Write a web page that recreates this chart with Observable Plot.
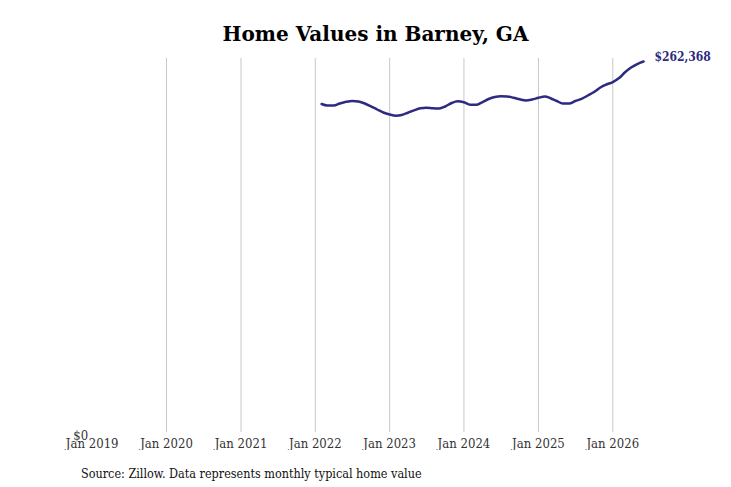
<!DOCTYPE html>
<html>
<head>
<meta charset="utf-8">
<script src="https://cdn.jsdelivr.net/npm/d3@7"></script>
<script src="https://cdn.jsdelivr.net/npm/@observablehq/plot@0.6"></script>
<style>
  html, body { margin: 0; padding: 0; background: #fff; }
  body { width: 731px; height: 487px; position: relative; overflow: hidden; }
  #title { position: absolute; left: 0; top: 22px; width: 751px; text-align: center;
    font-family: "DejaVu Serif", serif; font-weight: bold; font-size: 20px; color: #000; }
  #chart { position: absolute; left: 0; top: 50px; }
  #caption { position: absolute; left: 81px; top: 466px;
    font-family: "DejaVu Serif Condensed", "DejaVu Serif", serif; font-stretch: condensed;
    font-size: 12.5px; color: #111; }
</style>
</head>
<body>
<div id="title">Home Values in Barney, GA</div>
<div id="chart"></div>
<div id="caption">Source: Zillow. Data represents monthly typical home value</div>
<script>
// Monthly typical home value, Feb 2022 – Jun 2026
const startYear = 2022;
const startMonth = 1; // February (0-based)
const values = [
  232300, 231250, 231250, 232670, 233870, 234510, 234080, 232670, 230690, 228430, 226300,
  224890, 224040, 224540, 226160, 227860, 229270, 229630, 229270, 229130, 230550, 233020, 234300,
  233520, 231750, 231750, 233730, 235850, 237270, 237760, 237620, 236700, 235640, 234790, 235500,
  236700, 237620, 236420, 234440, 232670, 232670, 234440, 235990, 238330, 240800, 243980, 246110,
  247870, 250700, 254590, 258130, 260600, 262368
];
const yearTicks = [2019, 2020, 2021, 2022, 2023, 2024, 2025, 2026];
const gridYears = [2020, 2021, 2022, 2023, 2024, 2025, 2026];
const yTicks = [0];
const lineColor = "#2d2a7f";

const data = values.map((v, i) => ({date: new Date(Date.UTC(startYear, startMonth + i, 1)), value: v}));
const last = data[data.length - 1];
const tickDates = yearTicks.map(y => new Date(Date.UTC(y, 0, 1)));
const gridDates = gridYears.map(y => new Date(Date.UTC(y, 0, 1)));

const chart = Plot.plot({
  width: 731,
  height: 400,
  marginLeft: 91.7,
  marginRight: 88,
  marginTop: 8,
  marginBottom: 18,
  style: {fontFamily: '"DejaVu Serif Condensed", "DejaVu Serif", serif', fontStretch: "condensed", fontSize: "13px", color: "#333", background: "transparent"},
  x: {type: "utc", domain: [new Date(Date.UTC(2019, 0, 1)), last.date], label: null},
  y: {domain: [0, 264500], label: null},
  marks: [
    Plot.ruleX(gridDates, {stroke: "#c8c8c8", strokeWidth: 1}),
    Plot.axisX({ticks: tickDates, tickSize: 0, tickPadding: 6, tickFormat: d3.utcFormat("Jan %Y"), fill: "#333", label: null}),
    Plot.axisY({ticks: yTicks, tickSize: 0, tickPadding: 4, tickFormat: d => "$" + d3.format(",")(d), dy: 3, fill: "#333", anchor: "left", label: null}),
    Plot.line(data, {x: "date", y: "value", stroke: lineColor, strokeWidth: 2.5, curve: "monotone-x"}),
    Plot.text([last], {x: "date", y: "value", text: d => "$" + d3.format(",")(d.value), textAnchor: "start", dx: 11, dy: -4, fill: lineColor, fontWeight: "bold", fontSize: 12})
  ]
});
document.getElementById("chart").appendChild(chart);
</script>
</body>
</html>
